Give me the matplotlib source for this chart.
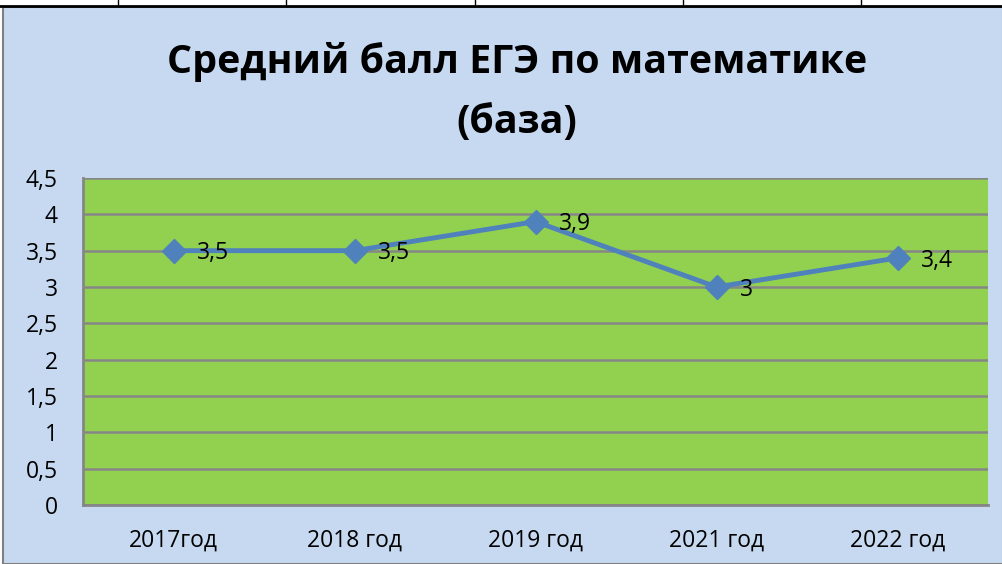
import matplotlib
matplotlib.use("Agg")
import matplotlib.pyplot as plt
from matplotlib.patches import Rectangle
from matplotlib.lines import Line2D

categories = ["2017год", "2018 год", "2019 год", "2021 год", "2022 год"]
values = [3.5, 3.5, 3.9, 3.0, 3.4]
value_labels = ["3,5", "3,5", "3,9", "3", "3,4"]
yticks = [0, 0.5, 1, 1.5, 2, 2.5, 3, 3.5, 4, 4.5]
ytick_labels = ["0", "0,5", "1", "1,5", "2", "2,5", "3", "3,5", "4", "4,5"]
title = "Средний балл ЕГЭ по математике\n(база)"

W, H = 1003, 564
fig = plt.figure(figsize=(W / 100, H / 100), dpi=100)
fig.patch.set_facecolor("white")

# chart area background
fig.patches.append(Rectangle((3 / W, 0), 1 - 3 / W, (H - 7) / H, transform=fig.transFigure,
                             facecolor="#C6D9F1", edgecolor="#808080", linewidth=1.5, zorder=-5))
# table lines above
fig.lines.append(Line2D([0, 1], [1 - 6 / H, 1 - 6 / H], transform=fig.transFigure, color="black", linewidth=2, zorder=-4))
for xp in [118, 286, 475, 683, 861]:
    fig.lines.append(Line2D([xp / W, xp / W], [1 - 6 / H, 1], transform=fig.transFigure, color="black", linewidth=1, zorder=-4))

ax = fig.add_axes([83 / W, (H - 505) / H, (988 - 83) / W, (505 - 178) / H])
ax.set_zorder(2)
ax.set_facecolor("#92D050")
x = list(range(len(categories)))
ax.set_xlim(-0.5, len(categories) - 0.5)
ax.set_ylim(0, 4.5)
ax.set_yticks(yticks)
ax.set_yticklabels(ytick_labels)
ax.set_xticks(x)
ax.set_xticklabels(categories)
ax.tick_params(axis="both", length=0, labelsize=16.5, colors="black")
ax.tick_params(axis="y", pad=18)
ax.tick_params(axis="x", pad=17)
for lbl in ax.get_xticklabels() + ax.get_yticklabels():
    lbl.set_fontfamily("Open Sans")
for yv in yticks:
    ax.axhline(yv, color="#868686", linewidth=1.8, zorder=1)
for s in ["top", "right"]:
    ax.spines[s].set_visible(False)
for s in ["left", "bottom"]:
    ax.spines[s].set_color("#868686")
    ax.spines[s].set_linewidth(2)

ax.plot(x, values, color="#4F81BD", linewidth=3.5, marker="D", markersize=12.5, zorder=3)
for xi, v, lab in zip(x, values, value_labels):
    ax.annotate(lab, (xi, v), xytext=(17, -2), textcoords="offset points", ha="left", va="center",
                fontsize=16.5, fontfamily="Open Sans", color="black", zorder=4)

fig.text(517 / W, 1 - 92 / H, title, ha="center", va="center", fontsize=28.4, fontweight="bold",
         fontfamily="Open Sans", linespacing=1.72, zorder=5)

fig.savefig("out.png", dpi=100)
